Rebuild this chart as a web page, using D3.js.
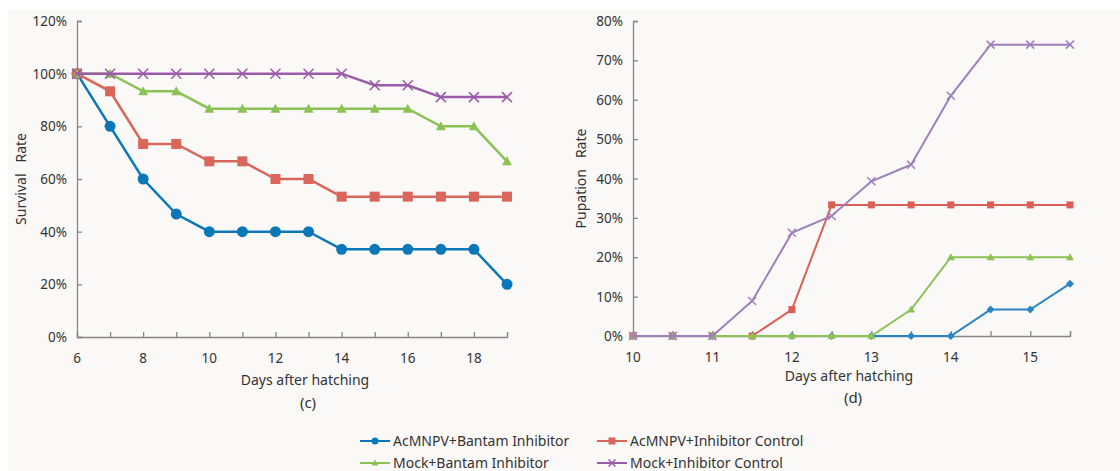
<!DOCTYPE html>
<html>
<head>
<meta charset="utf-8">
<script src="https://cdn.jsdelivr.net/npm/d3@7"></script>
<style>
  body { margin: 0; background: #fff; }
  text { font-family: "Noto Sans", "Open Sans", sans-serif; fill: #333; }
</style>
</head>
<body>
<div id="chart"></div>
<script>
// series names
const seriesNames = ["AcMNPV+Bantam Inhibitor", "AcMNPV+Inhibitor Control",
                     "Mock+Bantam Inhibitor", "Mock+Inhibitor Control"];
const colors = ["#0a78b8", "#d9665a", "#8cc156", "#9a5ba8"];
const colorsRight = ["#2a85c4", "#dc5f55", "#8cc156", "#9d7fba"];

// (c) survival, days 6..19
const daysC = [6, 7, 8, 9, 10, 11, 12, 13, 14, 15, 16, 17, 18, 19];
const survBlue   = [1, .80, .60, .467, .40, .40, .40, .40, .333, .333, .333, .333, .333, .20];
const survRed    = [1, .933, .733, .733, .667, .667, .60, .60, .533, .533, .533, .533, .533, .533];
const survGreen  = [1, 1, .933, .933, .867, .867, .867, .867, .867, .867, .867, .80, .80, .667];
const survPurple = [1, 1, 1, 1, 1, 1, 1, 1, 1, .956, .956, .911, .911, .911];
const ticksC = [6, 8, 10, 12, 14, 16, 18];

// (d) pupation, days 10..15.5
const daysD = [10, 10.5, 11, 11.5, 12, 12.5, 13, 13.5, 14, 14.5, 15, 15.5];
const pupBlue   = [0, 0, 0, 0, 0, 0, 0, 0, 0, .067, .067, .133];
const pupRed    = [0, 0, 0, 0, .067, .333, .333, .333, .333, .333, .333, .333];
const pupGreen  = [0, 0, 0, 0, 0, 0, 0, .067, .20, .20, .20, .20];
const pupPurple = [0, 0, 0, .089, .262, .305, .393, .435, .61, .74, .74, .74];
const ticksD = [10, 11, 12, 13, 14, 15];

const svg = d3.select('#chart').append('svg')
  .attr('width', 1120)
  .attr('height', 471)

svg.append('rect')
  .attr('x', 8).attr('y', 10)
  .attr('width', 1112).attr('height', 461)
  .attr('fill', '#fbf9f8')

function drawMarker(g, shape, cx, cy, color, s) {
  if (shape == 'circle') {
    g.append('circle').attr('cx', cx).attr('cy', cy).attr('r', s / 2).attr('fill', color)
  } else if (shape == 'square') {
    g.append('rect').attr('x', cx - s / 2).attr('y', cy - s / 2)
      .attr('width', s).attr('height', s).attr('fill', color)
  } else if (shape == 'triangle') {
    g.append('path').attr('d', `M${cx},${cy - s / 2}L${cx + s / 2},${cy + s / 2 - 1}L${cx - s / 2},${cy + s / 2 - 1}Z`)
      .attr('fill', color)
  } else if (shape == 'diamond') {
    g.append('path').attr('d', `M${cx},${cy - s / 2}L${cx + s / 2},${cy}L${cx},${cy + s / 2}L${cx - s / 2},${cy}Z`)
      .attr('fill', color)
  } else if (shape == 'x') {
    const h = s / 2
    g.append('path').attr('d', `M${cx - h},${cy - h}L${cx + h},${cy + h}M${cx - h},${cy + h}L${cx + h},${cy - h}`)
      .attr('stroke', color).attr('stroke-width', 1.5).attr('fill', 'none')
  }
}

function panel(opts) {
  const x = d3.scaleLinear().domain(opts.xDomain).range(opts.xRange)
  const y = d3.scaleLinear().domain(opts.yDomain).range(opts.yRange)
  const g = svg.append('g')

  // axes
  const xAxis = g.append('g')
    .attr('transform', `translate(0, ${opts.yRange[0]})`)
    .call(d3.axisTop(x).tickValues(opts.xTickMarks).tickSize(5).tickFormat(''))
  const yAxis = g.append('g')
    .attr('transform', `translate(${opts.xRange[0]}, 0)`)
    .call(d3.axisRight(y).tickValues(opts.yTicks).tickSize(5).tickFormat(''))
  g.selectAll('.domain, .tick line').attr('stroke', '#8a8583').attr('stroke-width', 1.3)

  g.selectAll('.xlab').data(opts.xLabels).enter().append('text')
    .attr('x', d => x(d)).attr('y', opts.yRange[0] + 26)
    .attr('text-anchor', 'middle').attr('font-size', 13.5)
    .text(d => d)
  g.selectAll('.ylab').data(opts.yTicks).enter().append('text')
    .attr('x', opts.xRange[0] - 10).attr('y', d => y(d) + 5)
    .attr('text-anchor', 'end').attr('font-size', 13.5)
    .text(d => d3.format('.0%')(d))

  g.append('text')
    .attr('transform', `translate(${opts.yTitleX}, ${(opts.yRange[0] + opts.yRange[1]) / 2}) rotate(-90)`)
    .attr('text-anchor', 'middle').attr('font-size', 14)
    .attr('xml:space', 'preserve')
    .text(opts.yTitle)
  g.append('text')
    .attr('x', opts.xTitleX).attr('y', opts.xTitleY)
    .attr('text-anchor', 'middle').attr('font-size', 14)
    .text('Days after hatching')
  g.append('text')
    .attr('x', opts.capX).attr('y', opts.capY)
    .attr('text-anchor', 'middle').attr('font-size', 15)
    .text(opts.caption)

  const line = d3.line().x(d => x(d[0])).y(d => y(d[1]))
  opts.series.forEach((vals, i) => {
    const pts = opts.days.map((d, j) => [d, vals[j]])
    g.append('path').datum(pts)
      .attr('d', line).attr('fill', 'none')
      .attr('stroke', opts.colors[i]).attr('stroke-width', opts.lineWidth)
    pts.forEach(p => drawMarker(g, opts.shapes[i], x(p[0]), y(p[1]), opts.colors[i], opts.sizes[i]))
  })
}

panel({
  xDomain: [6, 19], xRange: [77, 507],
  yDomain: [0, 1.2], yRange: [337, 21],
  xTickMarks: daysC, xLabels: ticksC,
  yTicks: [0, .2, .4, .6, .8, 1, 1.2],
  yTitle: 'Survival   Rate', yTitleX: 26,
  xTitleX: 305, xTitleY: 385, caption: '(c)', capX: 308, capY: 408,
  days: daysC, series: [survBlue, survRed, survGreen, survPurple],
  colors: colors, shapes: ['circle', 'square', 'triangle', 'x'],
  sizes: [11, 10, 10, 10], lineWidth: 2.5
})

panel({
  xDomain: [10, 15.5], xRange: [633, 1070],
  yDomain: [0, .8], yRange: [336, 21],
  xTickMarks: daysD, xLabels: ticksD,
  yTicks: [0, .1, .2, .3, .4, .5, .6, .7, .8],
  yTitle: 'Pupation   Rate', yTitleX: 586,
  xTitleX: 849, xTitleY: 381, caption: '(d)', capX: 853, capY: 403,
  days: daysD, series: [pupBlue, pupRed, pupGreen, pupPurple],
  colors: colorsRight, shapes: ['diamond', 'square', 'triangle', 'x'],
  sizes: [8, 7, 8, 8], lineWidth: 2
})

// legend
const legendPos = [[360, 441], [597, 441], [360, 463], [597, 463]]
const legendShapes = ['circle', 'square', 'triangle', 'x']
const legend = svg.append('g')
seriesNames.forEach((name, i) => {
  const [lx, ly] = legendPos[i]
  legend.append('line')
    .attr('x1', lx).attr('x2', lx + 30).attr('y1', ly).attr('y2', ly)
    .attr('stroke', colors[i]).attr('stroke-width', 2)
  drawMarker(legend, legendShapes[i], lx + 15, ly, colors[i], 7)
  legend.append('text')
    .attr('x', lx + 33).attr('y', ly + 5)
    .attr('font-size', 14)
    .text(name)
})
</script>
</body>
</html>
